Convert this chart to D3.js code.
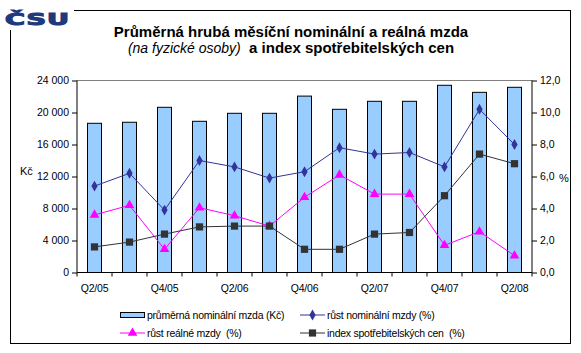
<!DOCTYPE html>
<html>
<head>
<meta charset="utf-8">
<script src="https://cdn.jsdelivr.net/npm/d3@7"></script>
<style>
  body { margin: 0; background: #fff; }
  svg { display: block; font-family: Arial, "Liberation Sans", sans-serif; }
</style>
</head>
<body>
<div id="chart"></div>
<script>
const quarters = ['Q2/05', 'Q3/05', 'Q4/05', 'Q1/06', 'Q2/06', 'Q3/06', 'Q4/06',
  'Q1/07', 'Q2/07', 'Q3/07', 'Q4/07', 'Q1/08', 'Q2/08'];
const wage = [18650, 18780, 20650, 18900, 19900, 19900, 22050, 20400, 21400, 21400, 23400, 22520, 23150];
const nominalGrowth = [5.4, 6.2, 3.9, 7.0, 6.6, 5.9, 6.3, 7.8, 7.4, 7.5, 6.6, 10.2, 8.0];
const realGrowth = [3.6, 4.2, 1.45, 4.05, 3.55, 2.9, 4.7, 6.1, 4.9, 4.9, 1.7, 2.55, 1.05];
const cpi = [1.6, 1.9, 2.4, 2.85, 2.9, 2.9, 1.45, 1.45, 2.4, 2.5, 4.8, 7.4, 6.8];
const leftTicks = [0, 4000, 8000, 12000, 16000, 20000, 24000];
const rightTicks = [0, 2, 4, 6, 8, 10, 12];
const labelled = ['Q2/05', 'Q4/05', 'Q2/06', 'Q4/06', 'Q2/07', 'Q4/07', 'Q2/08'];

const W = 581, H = 353;
const plot = { left: 77, right: 532, top: 80.5, bottom: 272.5 };

const svg = d3.select('#chart').append('svg')
  .attr('width', W)
  .attr('height', H);

// outer frame
svg.append('rect')
  .attr('x', 10.5).attr('y', 10.5)
  .attr('width', 560).attr('height', 333)
  .attr('fill', 'none').attr('stroke', '#000').attr('stroke-width', 1);

// logo
svg.append('rect').attr('x', 0).attr('y', 0).attr('width', 74).attr('height', 30).attr('fill', '#fff');
svg.append('text')
  .attr('transform', 'translate(5, 25) scale(1.75, 1)')
  .attr('font-family', '"DejaVu Sans", sans-serif')
  .attr('font-weight', 'bold')
  .attr('font-size', 15.5)
  .attr('fill', '#1f3a7c')
  .attr('stroke', '#1f3a7c')
  .attr('stroke-width', 1.1)
  .attr('letter-spacing', 0.6)
  .text('ČSU');

// title
const title = svg.append('g').attr('text-anchor', 'middle');
title.append('text')
  .attr('x', 291).attr('y', 37)
  .attr('font-size', 15).attr('font-weight', 'bold')
  .text('Průměrná hrubá měsíční nominální a reálná mzda');
const t2 = title.append('text').attr('x', 291).attr('y', 53).attr('font-size', 15);
t2.append('tspan').attr('font-style', 'italic').attr('font-size', 14).text('(na fyzické osoby)');
t2.append('tspan').attr('font-weight', 'bold').attr('xml:space', 'preserve').text('  a index spotřebitelských cen');

const x = d3.scaleBand()
  .domain(quarters)
  .range([plot.left, plot.right])
  .paddingInner(0.6)
  .paddingOuter(0.3);
const cx = d => x(d) + x.bandwidth() / 2;

const yL = d3.scaleLinear().domain([0, 24000]).range([plot.bottom, plot.top]);
const yR = d3.scaleLinear().domain([0, 12]).range([plot.bottom, plot.top]);

// top gridline
svg.append('line')
  .attr('x1', plot.left).attr('x2', plot.right)
  .attr('y1', yL(24000)).attr('y2', yL(24000))
  .attr('stroke', '#808080');

// bars
svg.append('g').selectAll('rect')
  .data(wage)
  .join('rect')
  .attr('x', (d, i) => x(quarters[i]))
  .attr('y', d => yL(d))
  .attr('width', x.bandwidth())
  .attr('height', d => yL(0) - yL(d))
  .attr('fill', '#99ccff')
  .attr('stroke', '#000')
  .attr('stroke-width', 1);

// axes
const fmtK = d3.formatLocale({ decimal: ',', thousands: ' ', grouping: [3], currency: ['', ''] }).format(',d');
const fmtP = d => d.toFixed(1).replace('.', ',');

const leftAxis = svg.append('g')
  .attr('transform', `translate(${plot.left},0)`)
  .call(d3.axisLeft(yL).tickValues(leftTicks).tickFormat(fmtK).tickSize(5).tickPadding(3));
const rightAxis = svg.append('g')
  .attr('transform', `translate(${plot.right},0)`)
  .call(d3.axisRight(yR).tickValues(rightTicks).tickFormat(fmtP).tickSize(5).tickPadding(3));
[leftAxis, rightAxis].forEach(g => {
  g.selectAll('path, line').attr('stroke', '#000');
  g.select('.domain').attr('d', `M0,${plot.top}V${plot.bottom}`);
  g.selectAll('text').attr('font-size', 10.5).attr('font-family', 'Arial, sans-serif').attr('fill', '#000');
});

// x axis
const xAxis = svg.append('g');
xAxis.append('line')
  .attr('x1', plot.left).attr('x2', plot.right)
  .attr('y1', plot.bottom).attr('y2', plot.bottom)
  .attr('stroke', '#000');
const bounds = quarters.map(q => cx(q) - x.step() / 2).concat([cx(quarters[quarters.length - 1]) + x.step() / 2]);
xAxis.selectAll('.tk').data(bounds).join('line')
  .attr('x1', d => d).attr('x2', d => d)
  .attr('y1', plot.bottom).attr('y2', plot.bottom + 4)
  .attr('stroke', '#000');
xAxis.selectAll('text').data(labelled).join('text')
  .attr('x', d => cx(d)).attr('y', 292)
  .attr('text-anchor', 'middle')
  .attr('font-size', 10.5)
  .attr('letter-spacing', -0.2)
  .text(d => d);

svg.append('text').attr('x', 20).attr('y', 175).attr('font-size', 11).text('Kč');
svg.append('text').attr('x', 559).attr('y', 182).attr('font-size', 11).text('%');

// lines
const series = [
  { values: nominalGrowth, color: '#333399', marker: 'diamond', size: 34 },
  { values: realGrowth, color: '#ff00ff', marker: 'triangle', size: 40 },
  { values: cpi, color: '#333333', marker: 'square', size: 52 }
];
const symbols = { diamond: d3.symbolDiamond, triangle: d3.symbolTriangle, square: d3.symbolSquare };
const line = d3.line().x((d, i) => cx(quarters[i])).y(d => yR(d));

series.forEach(s => {
  svg.append('path')
    .attr('d', line(s.values))
    .attr('fill', 'none')
    .attr('stroke', s.color)
    .attr('stroke-width', 1);
  svg.append('g').selectAll('path')
    .data(s.values)
    .join('path')
    .attr('transform', (d, i) => `translate(${cx(quarters[i])},${yR(d)})`)
    .attr('d', d3.symbol(symbols[s.marker], s.size))
    .attr('fill', s.color);
});

// legend
const legend = svg.append('g').attr('font-size', 10.5).attr('letter-spacing', -0.25);
const legendItems = [
  { label: 'průměrná nominální mzda (Kč)', type: 'bar', x: 120, y: 315 },
  { label: 'růst nominální mzdy (%)', type: 0, x: 300, y: 315 },
  { label: 'růst reálné mzdy  (%)', type: 1, x: 120, y: 333 },
  { label: 'index spotřebitelských cen  (%)', type: 2, x: 300, y: 333 }
];
legendItems.forEach(it => {
  const g = legend.append('g').attr('transform', `translate(${it.x},${it.y})`);
  if (it.type === 'bar') {
    g.append('rect').attr('x', 0.5).attr('y', -2.5).attr('width', 24).attr('height', 5)
      .attr('fill', '#99ccff').attr('stroke', '#000');
  } else {
    const s = series[it.type];
    g.append('line').attr('x1', 0).attr('x2', 25).attr('y1', 0).attr('y2', 0).attr('stroke', s.color);
    g.append('path').attr('transform', 'translate(12.5,0)')
      .attr('d', d3.symbol(symbols[s.marker], s.size)).attr('fill', s.color);
  }
  g.append('text').attr('x', 27).attr('y', 4).attr('xml:space', 'preserve').text(it.label);
});
</script>
</body>
</html>
